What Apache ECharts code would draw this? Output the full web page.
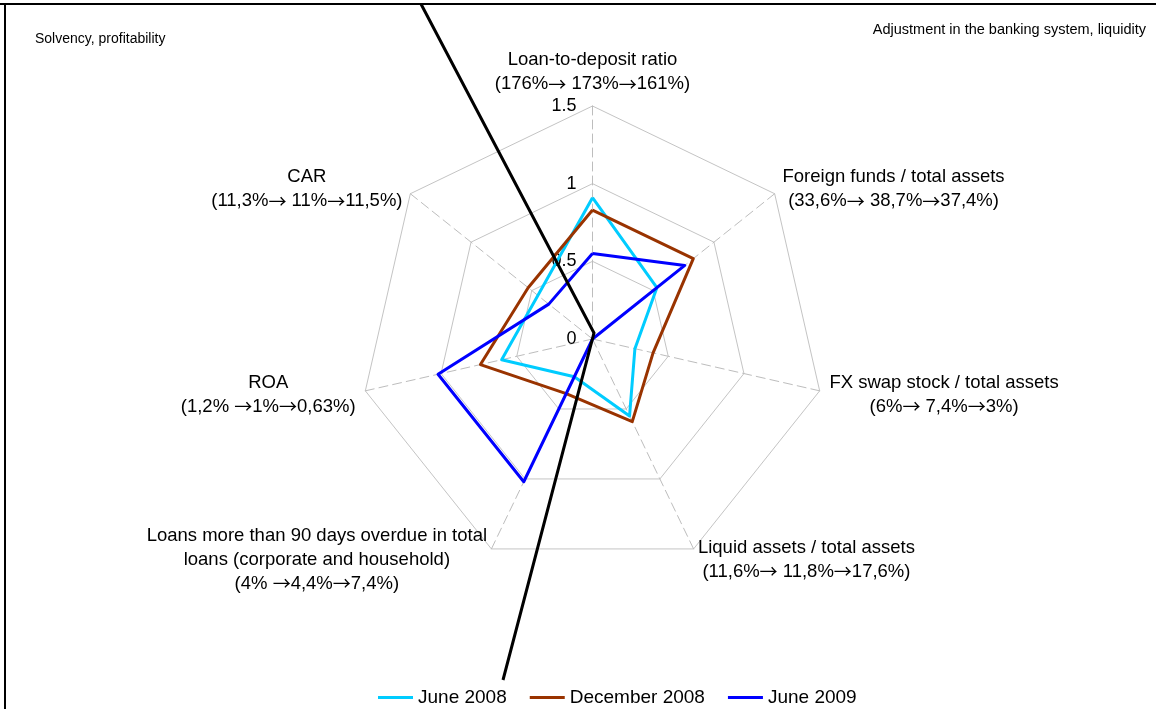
<!DOCTYPE html>
<html>
<head>
<meta charset="utf-8">
<script src="https://cdn.jsdelivr.net/npm/echarts@6/dist/echarts.min.js"></script>
<style>
html, body { margin: 0; padding: 0; background: #fff; }
#chart { width: 1156px; height: 709px; }
</style>
</head>
<body>
<div id="chart"></div>
<script>
// indicators, counter-clockwise from the top (echarts radar order)
const indicatorNames = [
  'Loan-to-deposit ratio\n(176%\u2192 173%\u2192161%)',
  'CAR\n(11,3%\u2192 11%\u219211,5%)',
  'ROA\n(1,2% \u21921%\u21920,63%)',
  'Loans more than 90 days overdue in total\nloans (corporate and household)\n(4% \u21924,4%\u21927,4%)',
  'Liquid assets / total assets\n(11,6%\u2192 11,8%\u219217,6%)',
  'FX swap stock / total assets\n(6%\u2192 7,4%\u21923%)',
  'Foreign funds / total assets\n(33,6%\u2192 38,7%\u219237,4%)'
];
const seriesNames = ['June 2008', 'December 2008', 'June 2009'];
const june2008 = [0.91, 0.45, 0.60, 0.27, 0.55, 0.28, 0.53];
const december2008 = [0.83, 0.53, 0.74, 0.39, 0.59, 0.40, 0.83];
const june2009 = [0.55, 0.36, 1.02, 1.02, 0, 0, 0.76];
const axisMax = 1.5;
const axisSplits = 3;
const colors = ['#00CCFF', '#993300', '#0000FF'];

const FONT = '"Liberation Sans", Arial, sans-serif';
const ARROW = '\u2192';

const chart = echarts.init(document.getElementById('chart'));

chart.setOption({
  backgroundColor: '#fff',
  animation: false,
  legend: {
    data: seriesNames,
    left: 378,
    top: 688,
    padding: 0,
    icon: 'rect',
    itemWidth: 35,
    itemHeight: 3,
    itemGap: 23,
    textStyle: { fontSize: 19, color: '#000', fontFamily: FONT }
  },
  radar: {
    center: [592.5, 339],
    radius: 233,
    startAngle: 90,
    splitNumber: axisSplits,
    shape: 'polygon',
    indicator: indicatorNames.map(function (n, i) {
      const ind = { name: n, min: 0, max: axisMax };
      if (i === 0) ind.axisLabel = { show: true };
      return ind;
    }),
    axisName: {
      color: '#000',
      fontSize: 18.5,
      lineHeight: 24,
      fontFamily: FONT,
      padding: [3, 0, 0, 0],
      rich: {
        t: { align: 'center', fontSize: 18.5, lineHeight: 24, color: '#000', fontFamily: FONT },
        a: { align: 'center', fontSize: 18, lineHeight: 24, color: '#000', fontFamily: '"Noto Sans CJK SC"' }
      },
      // keep every line centred inside its block, arrows drawn wide
      formatter: function (value) {
        return value.split('\n').map(function (l) {
          return l.split(ARROW).map(function (seg) {
            return seg ? '{t|' + seg + '}' : '';
          }).join('{a|' + ARROW + '}');
        }).join('\n');
      }
    },
    nameGap: 10,
    axisLine: { lineStyle: { color: '#BDBDBD', width: 1, type: [9, 5] } },
    splitLine: { lineStyle: { color: '#C4C4C4', width: 1 } },
    splitArea: { show: false },
    axisTick: { show: false },
    axisLabel: { show: false, color: '#000', fontSize: 18, fontFamily: FONT, margin: 16 }
  },
  series: [{
    type: 'radar',
    symbol: 'none',
    data: [
      { name: seriesNames[0], value: june2008, lineStyle: { color: colors[0], width: 3 }, itemStyle: { color: colors[0] } },
      { name: seriesNames[1], value: december2008, lineStyle: { color: colors[1], width: 3 }, itemStyle: { color: colors[1] } },
      { name: seriesNames[2], value: june2009, lineStyle: { color: colors[2], width: 3 }, itemStyle: { color: colors[2] } }
    ]
  }],
  graphic: [
    { type: 'text', left: 35, top: 32, style: { text: 'Solvency, profitability', fontSize: 14, fill: '#000', fontFamily: FONT } },
    { type: 'text', right: 10, top: 22, style: { text: 'Adjustment in the banking system, liquidity', fontSize: 14.5, fill: '#000', fontFamily: FONT } },
    { type: 'line', shape: { x1: 0, y1: 4, x2: 1156, y2: 4 }, style: { stroke: '#000', lineWidth: 2 }, z: 10 },
    { type: 'line', shape: { x1: 5, y1: 4, x2: 5, y2: 709 }, style: { stroke: '#000', lineWidth: 2 }, z: 10 },
    // separator drawn across the plot
    { type: 'polyline', shape: { points: [[421, 4], [594, 333], [503, 680]] }, style: { stroke: '#000', lineWidth: 3, fill: null }, z: 10 }
  ]
});
</script>
</body>
</html>
